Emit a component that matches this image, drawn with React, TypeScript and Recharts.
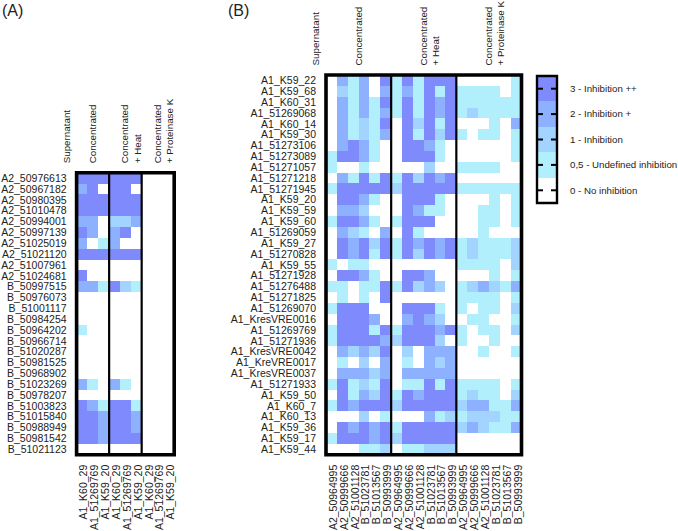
import React from 'react';
import { Bar, BarChart, Cell, ReferenceArea, ReferenceLine, XAxis, YAxis } from 'recharts';

const FONT = '"Liberation Sans", Arial, sans-serif';
const TEXT_COLOR = '#222222';

const LEVEL_COLORS: Record<number, string> = {
  0: '#ffffff',
  0.5: '#b2effd',
  1: '#a2d4ff',
  2: '#8db1ff',
  3: '#7f8bfd'
};

const legendLevels = [0, 0.5, 1, 2, 3];
const legendLabels = ['0 - No inhibition', '0,5 - Undefined inhibition', '1 - Inhibition', '2 - Inhibition +', '3 - Inhibition ++'];

const panelARows = [
  'A2_50976613', 'A2_50967182', 'A2_50980395', 'A2_51010478', 'A2_50994001', 'A2_50997139', 'A2_51025019',
  'A2_51021120', 'A2_51007961', 'A2_51024681', 'B_50997515', 'B_50976073', 'B_51001117', 'B_50984254',
  'B_50964202', 'B_50966714', 'B_51020287', 'B_50981525', 'B_50968902', 'B_51023269', 'B_50978207',
  'B_51003823', 'B_51015840', 'B_50988949', 'B_50981542', 'B_51021123'
];
const panelAColumns = [
  'A1_K60_29', 'A1_51269769', 'A1_K59_20', 'A1_K60_29', 'A1_51269769', 'A1_K59_20', 'A1_K60_29', 'A1_51269769', 'A1_K59_20'
];
const panelAValues = [
  [3, 3, 3, 3, 3, 3, 0, 0, 0],
  [2, 3, 0, 3, 3, 0, 0, 0, 0],
  [3, 3, 3, 3, 3, 3, 0, 0, 0],
  [3, 3, 3, 3, 3, 3, 0, 0, 0],
  [2, 2, 0, 1, 1, 2, 0, 0, 0],
  [3, 2, 0, 2, 3, 0, 0, 0, 0],
  [2, 0, 0.5, 2, 0, 0, 0, 0, 0],
  [3, 3, 3, 3, 3, 3, 0, 0, 0],
  [0, 0, 0, 0, 0, 0, 0, 0, 0],
  [3, 0, 0, 0, 0, 0, 0, 0, 0],
  [2, 2, 0.5, 3, 1, 0.5, 0, 0, 0],
  [0, 0, 0, 0, 0, 0, 0, 0, 0],
  [0, 0, 0, 0, 0, 0, 0, 0, 0],
  [0, 0, 0, 0, 0, 0, 0, 0, 0],
  [0.5, 0, 0, 0, 0, 0, 0, 0, 0],
  [0, 0, 0, 0, 0, 0, 0, 0, 0],
  [0, 0, 0, 0, 0, 0, 0, 0, 0],
  [0, 0, 0, 0, 0, 0, 0, 0, 0],
  [0, 0, 0, 0, 0, 0, 0, 0, 0],
  [2, 0.5, 0, 2, 0.5, 0, 0, 0, 0],
  [0, 0, 0, 0, 0, 0, 0, 0, 0],
  [3, 2, 0.5, 3, 3, 0.5, 0, 0, 0],
  [3, 3, 2, 3, 3, 2, 0, 0, 0],
  [3, 3, 2, 3, 3, 2, 0, 0, 0],
  [3, 3, 2, 3, 3, 3, 0, 0, 0],
  [0, 0, 0, 0, 0, 0, 0, 0, 0]
];

const panelBRows = [
  'A1_K59_22', 'A1_K59_68', 'A1_K60_31', 'A1_51269068', 'A1_K60_14', 'A1_K59_30', 'A1_51273106', 'A1_51273089',
  'A1_51271057', 'A1_51271218', 'A1_51271945', 'A1_K59_20', 'A1_K59_59', 'A1_K59_60', 'A1_51269059', 'A1_K59_27',
  'A1_51270828', 'A1_K59_55', 'A1_51271928', 'A1_51276488', 'A1_51271825', 'A1_51269070', 'A1_KresVRE0016',
  'A1_51269769', 'A1_51271936', 'A1_KresVRE0042', 'A1_KreVRE0017', 'A1_KresVRE0037', 'A1_51271933', 'A1_K59_50',
  'A1_K60_7', 'A1_K60_13', 'A1_K59_36', 'A1_K59_17', 'A1_K59_44'
];
const panelBColumns = [
  'A2_50964995', 'A2_50999666', 'A2_51001128', 'B_51023781', 'B_51013567', 'B_50993999',
  'A2_50964995', 'A2_50999666', 'A2_51001128', 'B_51023781', 'B_51013567', 'B_50993999',
  'A2_50964995', 'A2_50999666', 'A2_51001128', 'B_51023781', 'B_51013567', 'B_50993999'
];
const panelBValues = [
  [0, 2, 0.5, 2, 0, 3, 0.5, 3, 0.5, 3, 3, 3, 0, 0, 0, 0, 0, 0.5],
  [0, 1, 0.5, 2, 0, 2, 0.5, 2, 0.5, 3, 0.5, 3, 0.5, 0.5, 0.5, 0.5, 0, 0.5],
  [0, 2, 0.5, 2, 0.5, 3, 0.5, 3, 0.5, 3, 2, 3, 0.5, 0.5, 0.5, 0.5, 0.5, 0.5],
  [0, 2, 0.5, 2, 0.5, 2, 0.5, 3, 0.5, 3, 2, 3, 0.5, 1, 0.5, 0.5, 0.5, 0.5],
  [0, 2, 0.5, 1, 0.5, 3, 0, 3, 1, 3, 0.5, 3, 0, 0, 0, 0.5, 0, 2],
  [0, 2, 0.5, 1, 0.5, 2, 0, 3, 0.5, 3, 1, 3, 0.5, 0, 0.5, 0.5, 0, 0.5],
  [0, 2, 3, 2, 0.5, 0, 0, 3, 3, 2, 0.5, 0, 0, 0, 0, 0, 0, 0.5],
  [0.5, 3, 3, 2, 0.5, 0, 0, 3, 3, 3, 0.5, 0, 0, 0, 0, 0, 0, 0.5],
  [0.5, 0, 0, 0.5, 0, 0, 0, 0, 0, 1, 0, 0, 0.5, 0.5, 0.5, 0.5, 0, 0],
  [0, 2, 0.5, 3, 0.5, 3, 0.5, 3, 1, 3, 2, 3, 0, 0, 0, 0, 0, 0],
  [0.5, 3, 3, 3, 3, 3, 1, 3, 3, 3, 3, 3, 0.5, 0.5, 0.5, 0.5, 0.5, 0.5],
  [0, 3, 3, 2, 0.5, 0, 0, 3, 3, 3, 0.5, 0, 0, 0, 0, 0.5, 0, 0.5],
  [0, 2, 2, 1, 0, 0, 0, 3, 2, 0.5, 0.5, 0, 0, 0, 0.5, 0.5, 0, 0.5],
  [0.5, 3, 3, 2, 0.5, 0, 0.5, 3, 3, 3, 0, 0, 0, 0, 0.5, 0.5, 0, 0.5],
  [0, 2, 1, 0.5, 0, 2, 0, 3, 0.5, 0, 0, 0, 0, 0, 0.5, 0, 0, 0],
  [0, 3, 2, 3, 1, 3, 0.5, 3, 2, 3, 2, 3, 0.5, 1, 0.5, 0.5, 0.5, 1],
  [0, 3, 2, 3, 0.5, 3, 0.5, 3, 1, 3, 2, 3, 0.5, 1, 0.5, 0.5, 0.5, 1],
  [0.5, 0, 0.5, 0.5, 0, 0, 0, 0, 0, 0, 0, 0, 0.5, 0.5, 0.5, 0.5, 0, 1],
  [0, 3, 3, 2, 0.5, 0, 0, 3, 3, 2, 0, 0, 0, 0, 0, 0.5, 0, 0.5],
  [0.5, 0.5, 0, 0.5, 0.5, 3, 0.5, 3, 1, 2, 1, 0, 0.5, 1, 2, 1, 0.5, 2],
  [0, 0.5, 0, 0.5, 0, 3, 0, 0, 0, 0, 0, 0, 0.5, 0.5, 0.5, 0.5, 0, 0.5],
  [0.5, 3, 3, 3, 0, 0, 0, 3, 3, 3, 0.5, 0, 0.5, 0, 0.5, 0.5, 0, 1],
  [0, 3, 3, 3, 2, 0, 0, 2, 3, 2, 1, 0, 0, 0.5, 0.5, 0, 0, 0.5],
  [0.5, 3, 3, 3, 0.5, 3, 0.5, 3, 3, 3, 2, 3, 0.5, 0, 0.5, 0.5, 0, 1],
  [0.5, 3, 3, 3, 3, 2, 1, 3, 3, 3, 1, 0, 0.5, 0, 0, 0.5, 0, 0],
  [0, 2, 1, 2, 1, 3, 0, 1, 0, 2, 2, 2, 0, 0, 0.5, 0, 0, 0.5],
  [0, 0.5, 0, 1, 0, 2, 0, 0.5, 0, 2, 1, 2, 0, 0, 0, 0, 0, 0],
  [0, 2, 2, 2, 1, 2, 0, 2, 2, 2, 2, 2, 0, 0, 0, 0, 0, 0],
  [0.5, 3, 0.5, 1, 0.5, 3, 0, 0.5, 0.5, 3, 0.5, 3, 0.5, 0.5, 0.5, 0.5, 0, 0.5],
  [0, 3, 0.5, 2, 1, 3, 0.5, 3, 2, 3, 3, 3, 0.5, 1, 0.5, 0.5, 0, 1],
  [0.5, 3, 2, 3, 3, 3, 1, 3, 3, 3, 3, 3, 1, 2, 2, 0.5, 0.5, 2],
  [0, 0, 0, 1, 0, 0.5, 0, 0, 0, 2, 0.5, 1, 0.5, 1, 1, 1, 0.5, 0.5],
  [0, 3, 2, 3, 2, 3, 0.5, 3, 3, 3, 3, 3, 1, 2, 1, 0.5, 0.5, 2],
  [0.5, 3, 3, 3, 2, 3, 1, 3, 3, 3, 3, 3, 0, 0, 0, 0, 0, 0],
  [0, 0, 0, 0.5, 0.5, 1, 0, 0.5, 0.5, 1, 1, 1, 0, 0, 0, 0, 0, 0]
];

const headerGroups = [['Concentrated'], ['Concentrated', '+ Heat'], ['Concentrated', '+ Proteinase K']];

function HeaderTick({ x, y, index }: any) {
  return (
    <g>
      {headerGroups[index].map((line: string, lineIndex: number) => {
        const px = x - 0.5 + lineIndex * 12.5;
        return (
          <text
            key={line}
            x={px}
            y={y}
            dy="0.35em"
            transform={`rotate(-90 ${px} ${y})`}
            fontSize={9.8}
            fill={TEXT_COLOR}
            fontFamily={FONT}
          >
            {line}
          </text>
        );
      })}
    </g>
  );
}

type HeatmapProps = {
  rows: string[];
  columns: string[];
  values: number[][];
  left: number;
  width: number;
  plotTop: number;
  plotBottom: number;
  plotLeft: number;
  plotRight: number;
  supernatantX: number;
};

function Heatmap({ rows, columns, values, left, width, plotTop, plotBottom, plotLeft, plotRight, supernatantX }: HeatmapProps) {
  const data = rows.map(row => {
    const point: Record<string, number | string> = { row, none: 0 };
    columns.forEach((_, columnIndex) => {
      point[`c${columnIndex}`] = 1;
    });
    return point;
  });
  const groupSize = columns.length / 3;
  const columnTicks = columns.map((_, index) => index + 0.5);
  const groupTicks = [groupSize / 2, groupSize * 1.5, groupSize * 2.5];

  return (
    <div style={{ position: 'absolute', left, top: 0 }}>
      <BarChart
        width={width}
        height={531}
        data={data}
        layout="vertical"
        barCategoryGap={0}
        margin={{ top: 0, right: width - plotRight, bottom: 0, left: 0 }}
      >
        <YAxis
          type="category"
          dataKey="row"
          width={plotLeft}
          interval={0}
          tickLine={false}
          axisLine={false}
          tickSize={0}
          tickMargin={10}
          tick={{ fontSize: 10.5, fill: TEXT_COLOR, fontFamily: FONT }}
        />
        <XAxis
          type="number"
          orientation="bottom"
          domain={[0, columns.length]}
          ticks={columnTicks}
          interval={0}
          height={531 - plotBottom}
          tickLine={false}
          axisLine={false}
          tickSize={0}
          tickMargin={10}
          angle={-90}
          textAnchor="end"
          tickFormatter={(_value: number, index: number) => columns[index]}
          tick={{ fontSize: 10.5, fill: TEXT_COLOR, fontFamily: FONT, dx: -2 }}
        />
        <XAxis
          xAxisId="top"
          type="number"
          orientation="top"
          domain={[0, columns.length]}
          ticks={groupTicks}
          interval={0}
          height={plotTop}
          tickLine={false}
          axisLine={false}
          tickSize={0}
          tickMargin={9.5}
          tick={(props: any) => <HeaderTick x={props.x} y={props.y} index={props.index} />}
        />
        <Bar xAxisId="top" dataKey="none" stackId="cells" fill="none" isAnimationActive={false} />
        {columns.map((_, columnIndex) => (
          <Bar key={columnIndex} dataKey={`c${columnIndex}`} stackId="cells" isAnimationActive={false}>
            {values.map((rowValues, rowIndex) => (
              <Cell key={rowIndex} fill={LEVEL_COLORS[rowValues[columnIndex]]} shapeRendering="crispEdges" />
            ))}
          </Bar>
        ))}
        <ReferenceArea x1={0} x2={columns.length} fill="none" stroke="#000000" strokeWidth={3.6} ifOverflow="visible" zIndex={600} />
        <ReferenceLine x={groupSize} stroke="#000000" strokeWidth={2.2} />
        <ReferenceLine x={groupSize * 2} stroke="#000000" strokeWidth={2.2} />
        <text
          x={supernatantX}
          y={plotTop - 9.5}
          dy="0.35em"
          transform={`rotate(-90 ${supernatantX} ${plotTop - 9.5})`}
          fontSize={9.8}
          fill={TEXT_COLOR}
          fontFamily={FONT}
        >
          Supernatant
        </text>
      </BarChart>
    </div>
  );
}

function LegendTick({ x, y, payload, index }: any) {
  return (
    <g>
      <line x1={x - 20} x2={x - 14} y1={y} y2={y} stroke="#000000" strokeWidth={2} />
      <line x1={x - 6} x2={x} y1={y} y2={y} stroke="#000000" strokeWidth={2} />
      <text x={x + 13} y={y} dy="0.35em" fontSize={9.7} fill={TEXT_COLOR} fontFamily={FONT}>
        {legendLabels[index ?? legendLevels.indexOf(payload.value)]}
      </text>
    </g>
  );
}

function ColorLegend() {
  const legendData = [Object.fromEntries(legendLevels.map(level => [`l${level}`, 1]))];
  return (
    <div style={{ position: 'absolute', left: 530, top: 70 }}>
      <BarChart
        width={148}
        height={140}
        data={legendData}
        barCategoryGap={0}
        margin={{ top: 6, right: 0, bottom: 7, left: 7 }}
      >
        <XAxis dataKey={() => 'scale'} hide />
        <YAxis
          orientation="right"
          type="number"
          domain={[0, legendLevels.length]}
          ticks={legendLevels.map((_, index) => index + 0.5)}
          interval={0}
          width={121}
          tickLine={false}
          axisLine={false}
          tickSize={0}
          tickMargin={0}
          tick={<LegendTick />}
        />
        {legendLevels.map(level => (
          <Bar
            key={level}
            dataKey={`l${level}`}
            stackId="scale"
            fill={LEVEL_COLORS[level]}
            shapeRendering="crispEdges"
            isAnimationActive={false}
          />
        ))}
        <ReferenceArea y1={0} y2={legendLevels.length} fill="none" stroke="#000000" strokeWidth={2.4} ifOverflow="visible" zIndex={600} />
      </BarChart>
    </div>
  );
}

const titleStyle: React.CSSProperties = {
  position: 'absolute',
  top: 2,
  fontFamily: FONT,
  fontSize: 16,
  lineHeight: '18px',
  color: TEXT_COLOR
};

export default function App() {
  return (
    <div style={{ position: 'absolute', left: 0, top: 0, width: 678, height: 531, background: '#ffffff', overflow: 'hidden' }}>
      <Heatmap
        rows={panelARows}
        columns={panelAColumns}
        values={panelAValues}
        left={0}
        width={190}
        plotTop={172.8}
        plotBottom={454.7}
        plotLeft={76.6}
        plotRight={174.2}
        supernatantX={66.7}
      />
      <Heatmap
        rows={panelBRows}
        columns={panelBColumns}
        values={panelBValues}
        left={190}
        width={340}
        plotTop={75}
        plotBottom={454.7}
        plotLeft={136}
        plotRight={331.5}
        supernatantX={125.7}
      />
      <ColorLegend />
      <div style={{ ...titleStyle, left: 2 }}>(A)</div>
      <div style={{ ...titleStyle, left: 228 }}>(B)</div>
    </div>
  );
}
